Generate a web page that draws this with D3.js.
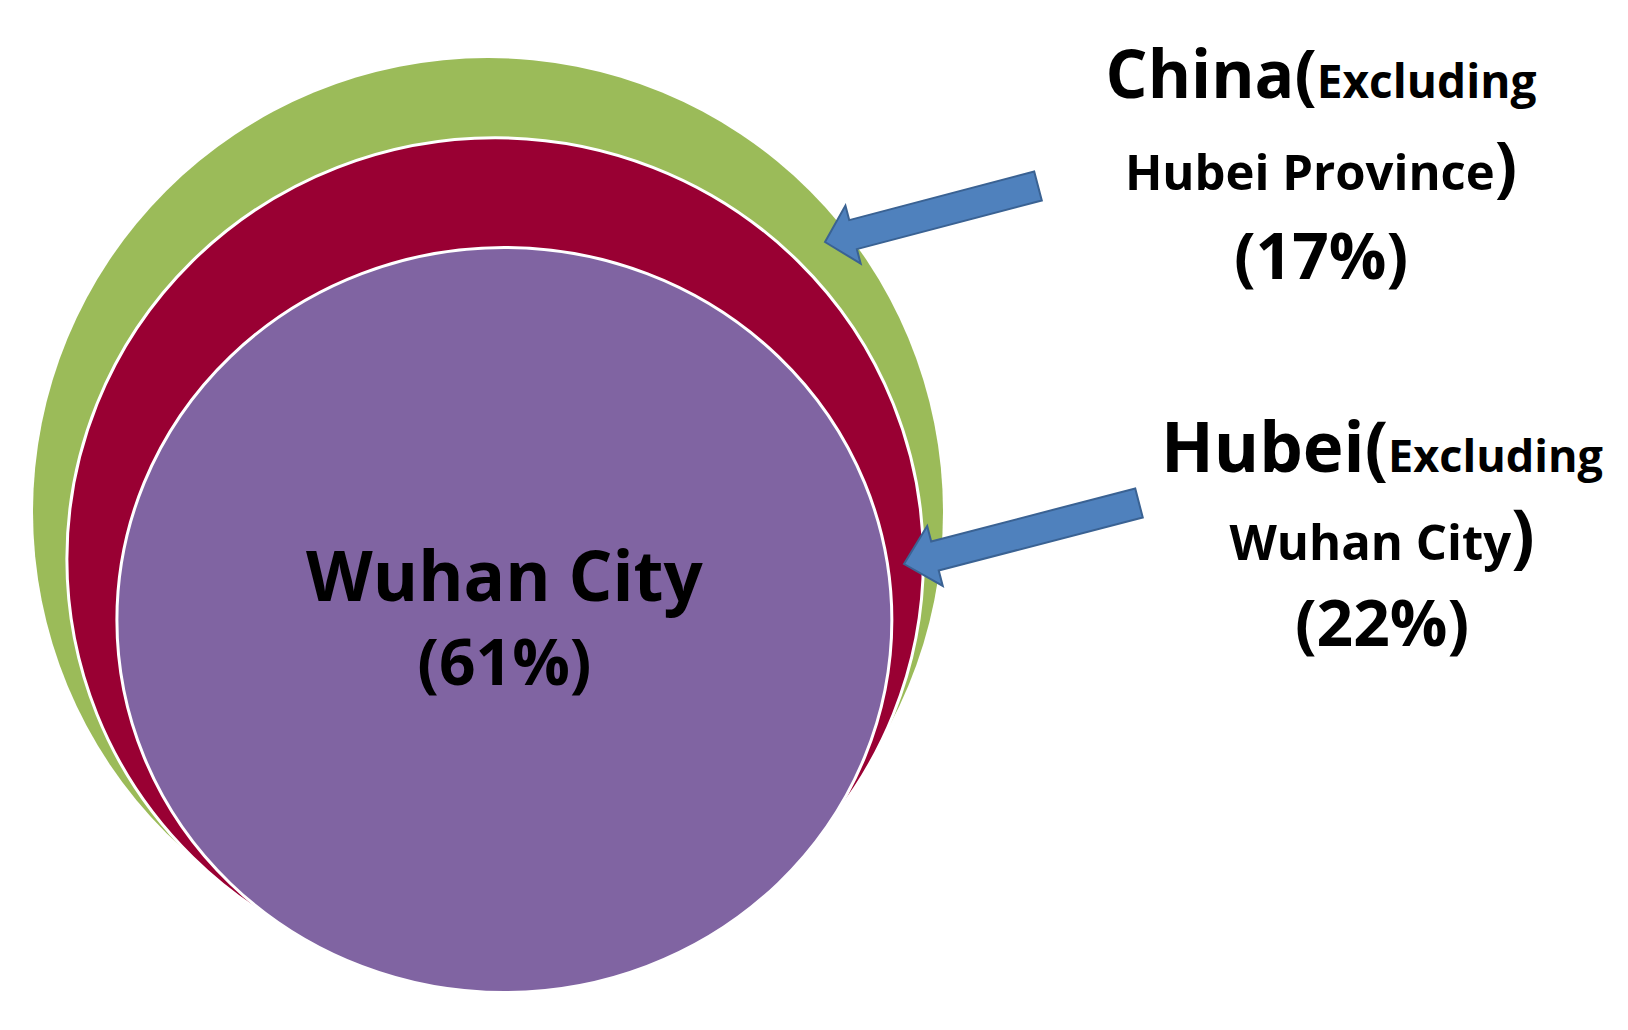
<!DOCTYPE html>
<html>
<head>
<meta charset="utf-8">
<script src="https://cdn.jsdelivr.net/npm/d3@7"></script>
<style>
  html, body { margin: 0; padding: 0; background: #ffffff; }
  svg { display: block; }
  text { font-family: "Open Sans", "Noto Sans", sans-serif; font-weight: 700; fill: #000; }
</style>
</head>
<body>
<svg id="chart" width="1628" height="1030"></svg>
<script>
// ---- data ----
const categories = ["Wuhan City", "Hubei (Excluding Wuhan City)", "China (Excluding Hubei Province)"];
const shares = [61, 22, 17];
const shareLabels = ["(61%)", "(22%)", "(17%)"];
const colors = ["#8064A2", "#990033", "#9BBB59"];

// cumulative share for nested ellipses (inner to outer)
const cumulative = d3.cumsum(shares); // 61, 83, 100

const svg = d3.select("#chart");

// scales mapping cumulative share -> ellipse radii / centre
const rxScale = d3.scalePow().exponent(0.325).domain([0, 100]).range([0, 455]);
const ryScale = d3.scalePow().exponent(0.40).domain([0, 100]).range([0, 454]);
const cxScale = d3.scaleLinear().domain([0, 100]).range([530, 488]);
const cyScale = d3.scaleLinear().domain([0, 100]).range([789, 512]);

const rings = categories.map((c, i) => ({
  name: c, value: shares[i], cum: cumulative[i], color: colors[i], label: shareLabels[i]
}));

// draw outer first
svg.append("g").selectAll("ellipse")
  .data(rings.slice().reverse())
  .join("ellipse")
  .attr("cx", d => cxScale(d.cum))
  .attr("cy", d => cyScale(d.cum))
  .attr("rx", d => rxScale(d.cum))
  .attr("ry", d => ryScale(d.cum))
  .attr("fill", d => d.color)
  .attr("stroke", (d, i) => i === 0 ? "none" : "#ffffff")
  .attr("stroke-width", 3);

// centre label
const inner = rings[0];
const icx = cxScale(inner.cum), icy = cyScale(inner.cum);
svg.append("text").attr("x", icx).attr("y", icy - 19)
  .attr("text-anchor", "middle").attr("font-size", 69).text(inner.name);
svg.append("text").attr("x", icx).attr("y", icy + 65)
  .attr("text-anchor", "middle").attr("font-size", 64).text(inner.label);

// ---- annotation arrows ----
const arrows = [
  { tip: [825, 242], tail: [1038, 186], shaft: 30, head: 60, headLen: 29 },
  { tip: [904, 564], tail: [1139, 503], shaft: 30, head: 62, headLen: 32 }
];
arrows.forEach(a => {
  const dx = a.tail[0] - a.tip[0], dy = a.tail[1] - a.tip[1];
  const L = Math.hypot(dx, dy);
  const ang = Math.atan2(dy, dx) * 180 / Math.PI;
  const pts = [
    [0, 0], [a.headLen, -a.head / 2], [a.headLen, -a.shaft / 2], [L, -a.shaft / 2],
    [L, a.shaft / 2], [a.headLen, a.shaft / 2], [a.headLen, a.head / 2]
  ];
  svg.append("path")
    .attr("d", d3.line()(pts) + "Z")
    .attr("transform", `translate(${a.tip[0]},${a.tip[1]}) rotate(${ang})`)
    .attr("fill", "#4F81BD")
    .attr("stroke", "#3A6293")
    .attr("stroke-width", 2)
    .attr("stroke-linejoin", "miter");
});

// ---- side labels ----
function sideLabel(cx, lines) {
  lines.forEach(l => {
    const t = svg.append("text").attr("x", cx).attr("y", l.y).attr("text-anchor", "middle");
    l.parts.forEach(p => t.append("tspan").attr("font-size", p.size).text(p.text));
  });
}

sideLabel(1321, [
  { y: 98, parts: [{ text: "China(", size: 66 }, { text: "Excluding", size: 46 }] },
  { y: 190, parts: [{ text: "Hubei Province", size: 49 }, { text: ")", size: 66 }] },
  { y: 279, parts: [{ text: shareLabels[2], size: 64 }] }
]);

sideLabel(1382, [
  { y: 472, parts: [{ text: "Hubei(", size: 69 }, { text: "Excluding", size: 45 }] },
  { y: 560, parts: [{ text: "Wuhan City", size: 49 }, { text: ")", size: 69 }] },
  { y: 646, parts: [{ text: shareLabels[1], size: 64 }] }
]);
</script>
</body>
</html>
